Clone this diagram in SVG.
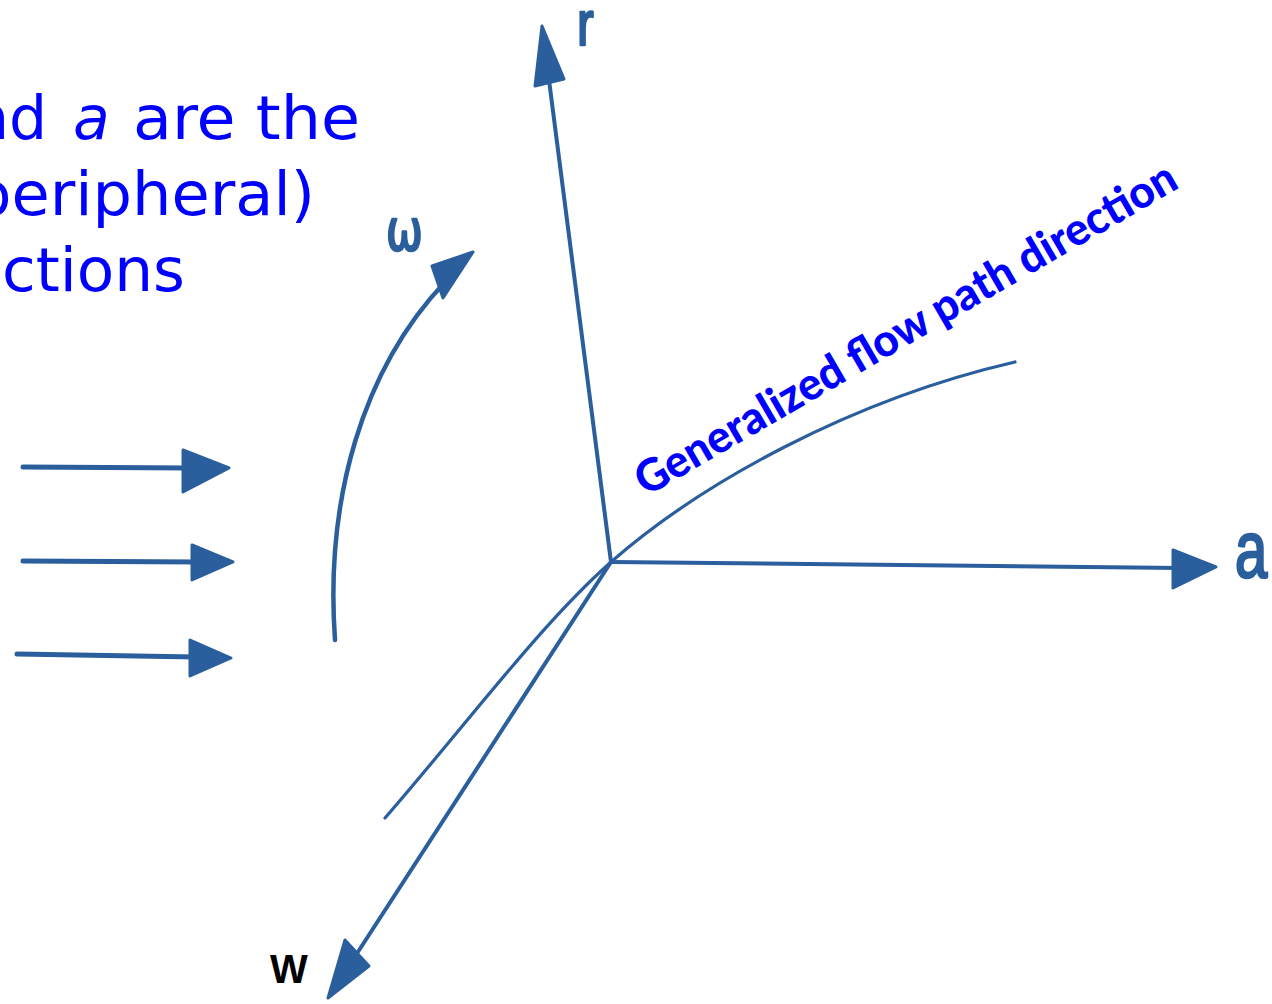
<svg xmlns="http://www.w3.org/2000/svg" width="1272" height="1004" viewBox="0 0 1272 1004">
<style>
.ln{fill:none;stroke:#2b5e9c;stroke-linecap:round;stroke-linejoin:round}
.ax{stroke-width:4}
.fl{stroke-width:3.2}
.sh{stroke-width:5}
.hd{fill:#2b5e9c;stroke:#2b5e9c;stroke-width:3;stroke-linejoin:round}
.hand{fill:#2b5e9c;stroke:#2b5e9c;stroke-width:2;stroke-linejoin:round;font-family:"Liberation Sans",Arial,sans-serif}
.cap{fill:#0000ff;font-family:"DejaVu Sans",Verdana,sans-serif;font-size:60px}
.gen{fill:#0000ff;font-family:Lato,"Open Sans",sans-serif;font-weight:900;font-size:45px}
</style>
<rect width="1272" height="1004" fill="#ffffff"/>
<g id="caption">
<text class="cap" y="139"><tspan x="-29">nd</tspan><tspan x="73" font-style="italic">a</tspan><tspan x="133" textLength="227" lengthAdjust="spacingAndGlyphs">are the</tspan></text>
<text class="cap" x="-28" y="215" textLength="343" lengthAdjust="spacingAndGlyphs">peripheral)</text>
<text class="cap" x="2" y="291" textLength="183" lengthAdjust="spacingAndGlyphs">ctions</text>
</g>
<g id="connectors">
<g id="flow-arrows">
<line class="ln sh" x1="23" y1="467" x2="190" y2="468"/>
<polygon class="hd" points="229,468 183,450 183,492"/>
<line class="ln sh" x1="23" y1="561" x2="198" y2="562"/>
<polygon class="hd" points="233,562 192,545 192,580"/>
<line class="ln sh" x1="17" y1="654" x2="196" y2="657"/>
<polygon class="hd" points="231,658 190,640 190,676"/>
</g>
<g id="omega-arrow">
<path class="ln" stroke-width="4.5" d="M335,640 C325,500 362,370 445,282"/>
<polygon class="hd" points="473,252 432,266 443,298"/>
</g>
<g id="axis-r">
<line class="ln ax" x1="611" y1="562" x2="549" y2="80"/>
<polygon class="hd" points="542,26 535,86 564,79"/>
</g>
<g id="axis-a">
<line class="ln ax" x1="611" y1="562" x2="1180" y2="568"/>
<polygon class="hd" points="1216,567 1173,550 1173,588"/>
</g>
<g id="axis-w">
<line class="ln ax" x1="611" y1="562" x2="354" y2="958"/>
<polygon class="hd" points="328,998 345,940 369,966"/>
</g>
<g id="flow-path">
<path class="ln fl" d="M385,818 C470,720 540,625 611,562 C700,484 850,400 1015,362"/>
</g>
</g>
<g id="label-r"><text class="hand" font-size="50" transform="translate(577,45) scale(1,1.25)">r</text></g>
<g id="label-a"><text class="hand" font-size="58" transform="translate(1235,577) scale(1,1.36)">a</text></g>
<g id="label-omega"><text class="hand" font-size="44" transform="translate(386,250) scale(1,1.3)" style="font-family:'DejaVu Sans',sans-serif">ω</text></g>
<g id="label-w"><text x="270" y="983" font-family="Liberation Sans, Arial, sans-serif" font-weight="bold" font-size="40" fill="#000000">W</text></g>
<g id="label-flow"><text class="gen" transform="translate(646,497) rotate(-30.1)" textLength="618" lengthAdjust="spacingAndGlyphs">Generalized flow path direction</text></g>
</svg>
